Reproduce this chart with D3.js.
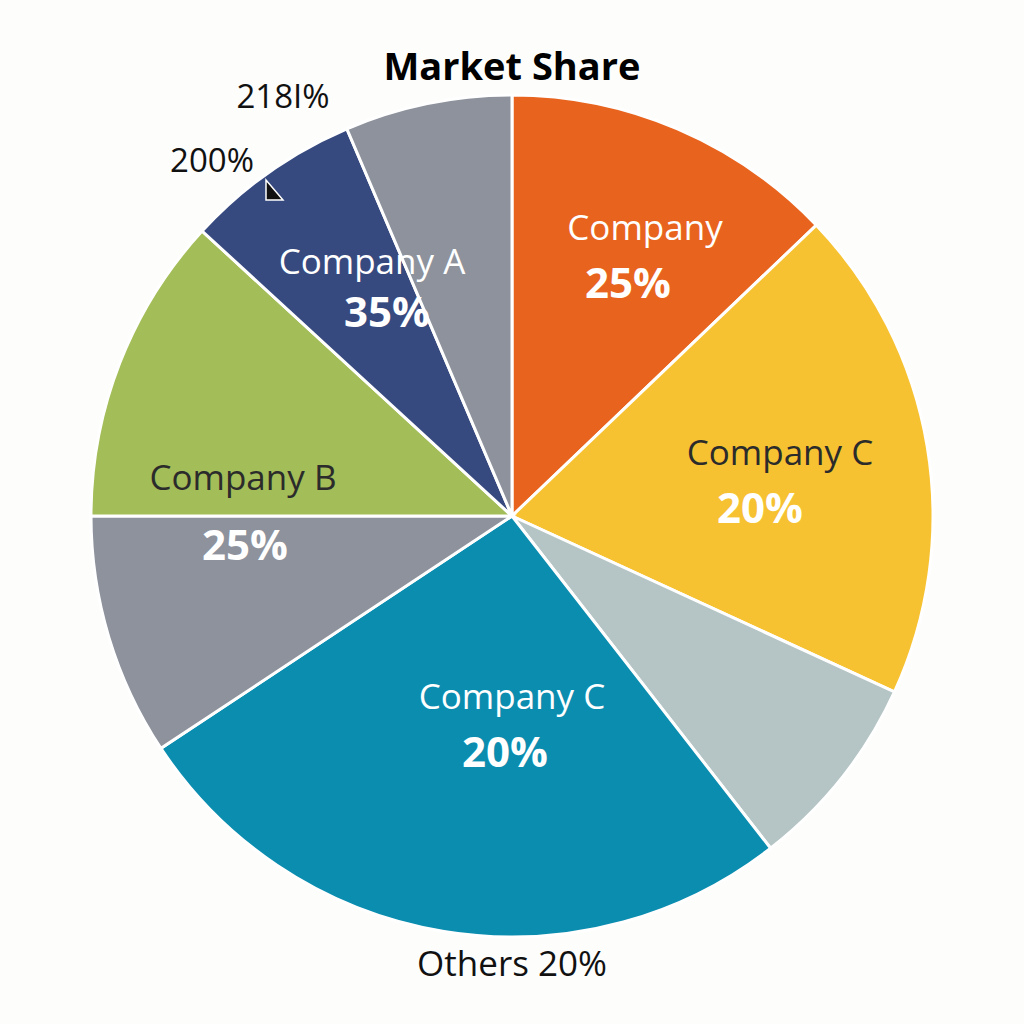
<!DOCTYPE html>
<html>
<head>
<meta charset="utf-8">
<script src="https://cdn.jsdelivr.net/npm/d3@7"></script>
<style>
  body { margin: 0; background: #fdfdfc; }
  text { font-family: "Open Sans", "Noto Sans", sans-serif; }
</style>
</head>
<body>
<div id="chart"></div>
<script>
// slice sizes (degrees), clockwise from 12 o'clock
var slices = ["Orange", "Yellow", "Sage", "Teal", "Grey", "Green", "Navy", "Slate"]
var shares = [46.3, 68.4, 27.4, 94.4, 33.5, 42.6, 24.3, 23.1]
var colors = ["#e8641e", "#f7c232", "#b5c4c4", "#0b8db0", "#8d929c", "#a3bd58", "#374a7f", "#8d929c"]

// text labels as they appear on the chart
var names = ["Company", "Company C", "Company C", "Company B", "Company A"]
var percents = ["25%", "20%", "20%", "25%", "35%"]
var nameColors = ["#fff", "#2b2b2b", "#fff", "#2b2b2b", "#fff"]
var labelPos = [[645, 228], [780, 453], [512, 697], [243, 478], [372, 262]]
var pctPos = [[628, 283], [760, 508], [505, 752], [245, 545], [387, 312]]

var width = 1024, height = 1024
var cx = 512, cy = 516, radius = 421

var svg = d3.select("#chart").append("svg")
    .attr("width", width)
    .attr("height", height)

svg.append("text")
    .attr("x", 512).attr("y", 80)
    .attr("text-anchor", "middle")
    .style("font-size", "38px").style("font-weight", "bold")
    .text("Market Share")

var pie = d3.pie().sort(null).value(d => d)
var arc = d3.arc().innerRadius(0).outerRadius(radius)

svg.append("g")
    .attr("transform", "translate(" + cx + "," + cy + ")")
  .selectAll("path")
    .data(pie(shares))
  .enter().append("path")
    .attr("d", arc)
    .attr("fill", (d, i) => colors[i])
    .attr("stroke", "#fff")
    .attr("stroke-width", 3)

// company names
svg.selectAll(".name")
    .data(names)
  .enter().append("text")
    .attr("class", "name")
    .attr("x", (d, i) => labelPos[i][0])
    .attr("y", (d, i) => labelPos[i][1] + 12)
    .attr("text-anchor", "middle")
    .attr("fill", (d, i) => nameColors[i])
    .style("font-size", "35px")
    .text(d => d)

svg.selectAll(".pct")
    .data(percents)
  .enter().append("text")
    .attr("class", "pct")
    .attr("x", (d, i) => pctPos[i][0])
    .attr("y", (d, i) => pctPos[i][1] + 15)
    .attr("text-anchor", "middle")
    .attr("fill", "#fff")
    .style("font-size", "42px").style("font-weight", "bold")
    .text(d => d)

// loose labels outside the pie
svg.append("text").attr("x", 512).attr("y", 976).attr("text-anchor", "middle")
    .style("font-size", "35px").attr("fill", "#111").text("Others 20%")
svg.append("text").attr("x", 212).attr("y", 172).attr("text-anchor", "middle")
    .style("font-size", "33px").attr("fill", "#111").text("200%")
svg.append("text").attr("x", 283).attr("y", 108).attr("text-anchor", "middle")
    .style("font-size", "33px").attr("fill", "#111").text("218I%")

// small pointer mark
svg.append("path")
    .attr("d", "M266,180 L266,200 L283,200 Z")
    .attr("fill", "#111").attr("stroke", "#fff").attr("stroke-width", 1.5)
</script>
</body>
</html>
